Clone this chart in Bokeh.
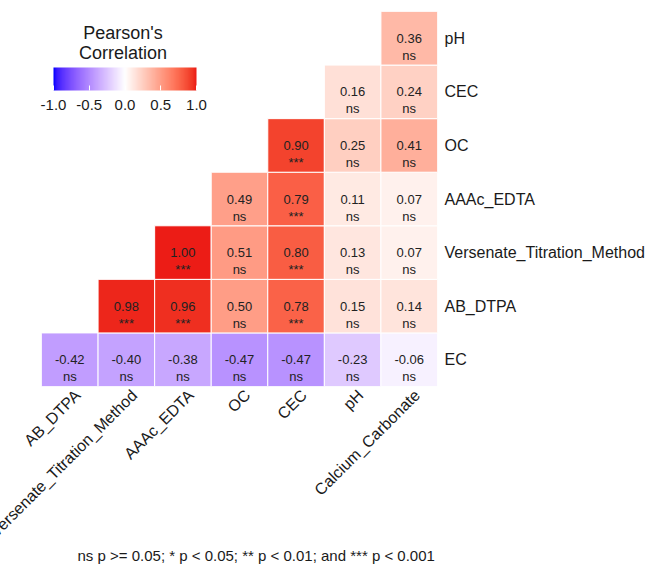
import numpy as np
from bokeh.plotting import figure
from bokeh.models import (ColumnDataSource, ColorBar, LinearColorMapper, FixedTicker,
                          PrintfTickFormatter, Label, Title, Range1d, LinearAxis)
from bokeh.core.properties import value
from bokeh.embed import file_html
from bokeh.resources import INLINE

# ---------------- data ----------------
x_vars = ["AB_DTPA", "Versenate_Titration_Method", "AAAc_EDTA", "OC", "CEC", "pH", "Calcium_Carbonate"]
y_vars = ["EC", "AB_DTPA", "Versenate_Titration_Method", "AAAc_EDTA", "OC", "CEC", "pH"]

# each row: correlations with the last k x-variables
r_EC = [-0.42, -0.40, -0.38, -0.47, -0.47, -0.23, -0.06]
s_EC = ["ns", "ns", "ns", "ns", "ns", "ns", "ns"]
r_AB_DTPA = [0.98, 0.96, 0.50, 0.78, 0.15, 0.14]
s_AB_DTPA = ["***", "***", "ns", "***", "ns", "ns"]
r_Versenate = [1.00, 0.51, 0.80, 0.13, 0.07]
s_Versenate = ["***", "ns", "***", "ns", "ns"]
r_AAAc = [0.49, 0.79, 0.11, 0.07]
s_AAAc = ["ns", "***", "ns", "ns"]
r_OC = [0.90, 0.25, 0.41]
s_OC = ["***", "ns", "ns"]
r_CEC = [0.16, 0.24]
s_CEC = ["ns", "ns"]
r_pH = [0.36]
s_pH = ["ns"]

legend_ticks = [-1.0, -0.5, 0.0, 0.5, 1.0]
legend_title = ["Pearson's", "Correlation"]
footnote = "ns p >= 0.05; * p < 0.05; ** p < 0.01; and *** p < 0.001"

rows_r = [r_EC, r_AB_DTPA, r_Versenate, r_AAAc, r_OC, r_CEC, r_pH]
rows_s = [s_EC, s_AB_DTPA, s_Versenate, s_AAAc, s_OC, s_CEC, s_pH]

# ---------------- colour (Lab interpolation blue-white-red) ----------------
M = np.array([[0.4124564, 0.3575761, 0.1804375],
              [0.2126729, 0.7151522, 0.0721750],
              [0.0193339, 0.1191920, 0.9503041]])
Minv = np.linalg.inv(M)
WN = np.array([0.95047, 1.0, 1.08883])
D = 6 / 29


def to_lab(rgb):
    c = np.array(rgb, float) / 255
    lin = np.where(c <= 0.04045, c / 12.92, ((c + 0.055) / 1.055) ** 2.4)
    xyz = M @ lin / WN
    f = np.where(xyz > D ** 3, np.cbrt(xyz), xyz / (3 * D * D) + 4 / 29)
    return np.array([116 * f[1] - 16, 500 * (f[0] - f[1]), 200 * (f[1] - f[2])])


def to_hex(lab):
    L, a, b = lab
    fy = (L + 16) / 116
    f = np.array([fy + a / 500, fy, fy - b / 200])
    xyz = np.where(f > D, f ** 3, 3 * D * D * (f - 4 / 29)) * WN
    lin = np.clip(Minv @ xyz, 0, 1)
    c = np.where(lin <= 0.0031308, 12.92 * lin, 1.055 * lin ** (1 / 2.4) - 0.055)
    c = np.clip(np.round(c * 255), 0, 255).astype(int)
    return "#%02x%02x%02x" % tuple(c)


LAB_LOW, LAB_MID, LAB_HIGH = to_lab((0, 0, 255)), to_lab((255, 255, 255)), to_lab((236, 28, 22))


def colour(v):
    t = (v + 1) / 2
    if t <= 0.5:
        s = t / 0.5
        return to_hex(LAB_LOW + (LAB_MID - LAB_LOW) * s)
    s = (t - 0.5) / 0.5
    return to_hex(LAB_MID + (LAB_HIGH - LAB_MID) * s)


xs, ys, rs, labs, sigs, cols = [], [], [], [], [], []
for yv, rr, ss in zip(y_vars, rows_r, rows_s):
    cx = x_vars[len(x_vars) - len(rr):]
    for xv, r, s in zip(cx, rr, ss):
        xs.append(x_vars.index(xv) + 0.5); ys.append(yv); rs.append(r)
        labs.append("%.2f" % r); sigs.append(s); cols.append(colour(r))

src = ColumnDataSource(dict(x=xs, y=ys, r=rs, lab=labs, sig=sigs, col=cols))

# ---------------- figure ----------------
FONT = "Liberation Sans"
p = figure(x_range=Range1d(0, len(x_vars)), y_range=y_vars,
           frame_width=396, frame_height=375,
           output_backend="svg", toolbar_location=None,
           x_axis_location=None, y_axis_location="right",
           min_border_left=41, min_border_top=11, min_border_right=200, min_border_bottom=180)
p.outline_line_color = None
p.grid.grid_line_color = None
p.background_fill_color = "white"
p.border_fill_color = "white"

p.rect(x="x", y="y", width=1, height=1, source=src, fill_color="col",
       line_color="white", line_width=1)
p.text(x="x", y="y", text="lab", source=src, text_align="center", text_baseline="alphabetic",
       text_font=value(FONT), text_font_size="13px", text_color="#222222", y_offset=0)
p.text(x="x", y="y", text="sig", source=src, text_align="center", text_baseline="alphabetic",
       text_font=value(FONT), text_font_size="13px", text_color="#222222", y_offset=17)

# x labels: helper axis so that rotated labels can be nudged like ggplot's hjust=1
p.extra_x_ranges = {"lab": Range1d(start=-0.64, end=len(x_vars) - 0.64)}
xlab_axis = LinearAxis(x_range_name="lab",
                       ticker=FixedTicker(ticks=list(range(len(x_vars)))),
                       major_label_overrides={i: n for i, n in enumerate(x_vars)})
p.add_layout(xlab_axis, "below")

for ax in (xlab_axis, p.yaxis[0]):
    ax.axis_line_color = None
    ax.major_tick_line_color = None
    ax.minor_tick_line_color = None
    ax.major_tick_out = 0
    ax.major_tick_in = 0
    ax.major_label_text_font = FONT
    ax.major_label_text_color = "#1a1a1a"
p.yaxis[0].major_label_text_font_size = "16px"
p.yaxis[0].major_label_standoff = 7
xlab_axis.major_label_text_font_size = "16px"
xlab_axis.major_label_standoff = 6
xlab_axis.major_label_orientation = np.pi / 4

# ---------------- colour bar legend ----------------
palette = [colour(v) for v in np.linspace(-1, 1, 256)]
mapper = LinearColorMapper(palette=palette, low=-1, high=1)
cb = ColorBar(color_mapper=mapper, orientation="horizontal", width=143, height=23,
              location=(12, 274), padding=0, title=None,
              ticker=FixedTicker(ticks=legend_ticks), formatter=PrintfTickFormatter(format="%.1f"),
              major_label_text_font=FONT, major_label_text_font_size="15px",
              major_label_text_color="#1a1a1a", label_standoff=9,
              major_tick_line_color="white", major_tick_in=5, major_tick_out=0,
              minor_tick_line_color=None, bar_line_color=None,
              background_fill_alpha=0, border_line_color=None)
p.add_layout(cb, "center")

for i, t in enumerate(legend_title):
    p.add_layout(Label(x=81.5, y=354 - 20 * i, x_units="screen", y_units="screen", text=t,
                       text_align="center", text_baseline="alphabetic",
                       text_font=FONT, text_font_size="18px", text_color="#1a1a1a"))

p.add_layout(Title(text=footnote, align="left", offset=36, standoff=-9,
                   text_font=FONT, text_font_size="15px", text_font_style="normal",
                   text_color="#1a1a1a"), "below")

open("out.html", "w").write(file_html(p, INLINE))
